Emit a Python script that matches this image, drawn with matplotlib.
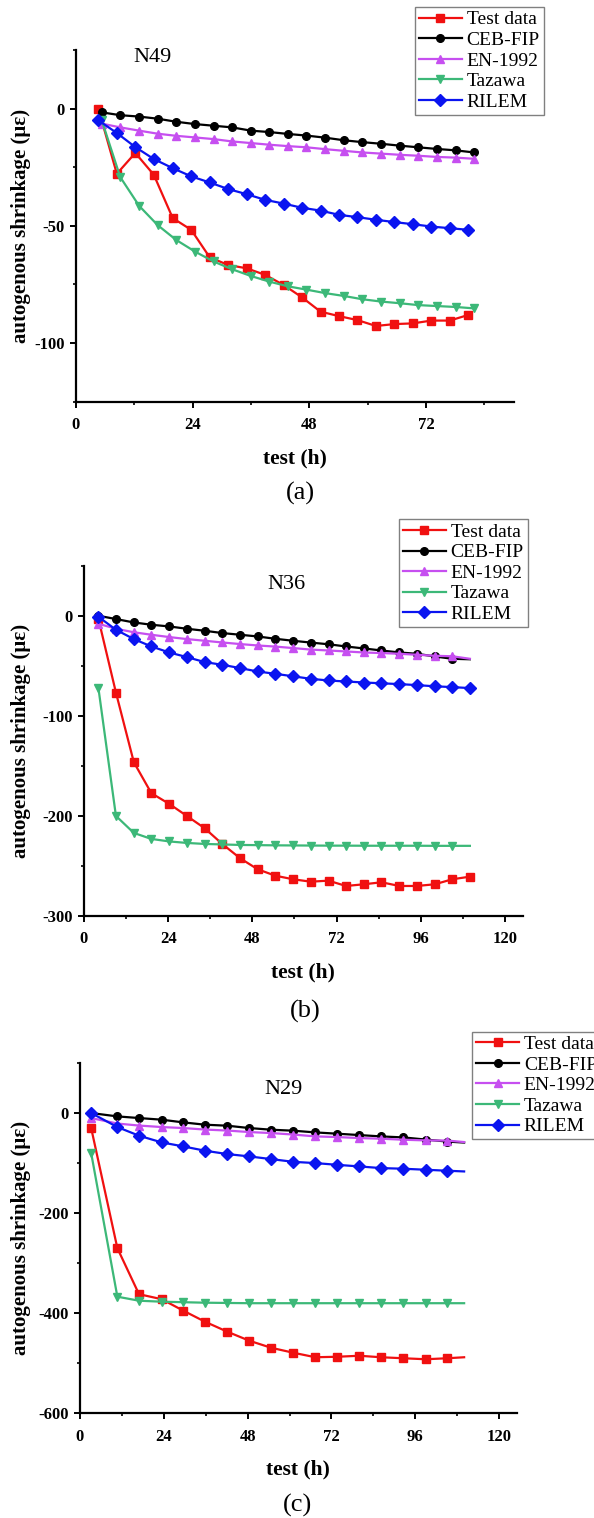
import matplotlib
matplotlib.use("Agg")
import matplotlib.pyplot as plt
from matplotlib.ticker import MultipleLocator

plt.rcParams["font.family"] = ["Liberation Serif", "DejaVu Serif"]
plt.rcParams["axes.unicode_minus"] = False

labels = ["Test data", "CEB-FIP", "EN-1992", "Tazawa", "RILEM"]
colors = ["#f01010", "#000000", "#c64ff0", "#3cb878", "#0a14f0"]
markers = ["s", "o", "^", "v", "D"]
names = ["N49", "N36", "N29"]
captions = ["(a)", "(b)", "(c)"]

# (a) N49
x_a = [4.6, 8.4, 12.2, 16.0, 19.9, 23.7, 27.5, 31.3, 35.1, 38.9, 42.7,
       46.5, 50.3, 54.1, 57.9, 61.7, 65.5, 69.3, 73.1, 76.9, 80.7]
x_a2 = [5.3, 9.1, 13.0, 16.8, 20.6, 24.5, 28.3, 32.1, 36.0, 39.8, 43.6,
        47.4, 51.3, 55.1, 58.9, 62.8, 66.6, 70.4, 74.2, 78.1, 81.9]
test_a = [0, -27.8, -18.9, -28.2, -46.7, -51.7, -63.4, -66.7, -68.1, -70.9, -75.2,
          -80.5, -86.6, -88.5, -90.2, -92.7, -91.9, -91.6, -90.4, -90.4, -88.0]
ceb_a = [-1.6, -2.8, -3.4, -4.3, -5.6, -6.6, -7.3, -8.0, -9.4, -10.0, -10.8,
         -11.5, -12.4, -13.5, -14.3, -15.0, -15.8, -16.5, -17.2, -17.8, -18.7]
en_a = [-6.4, -8.0, -9.4, -10.7, -11.6, -12.3, -13.0, -14.0, -14.7, -15.4, -16.0,
        -16.5, -17.3, -18.0, -18.7, -19.2, -19.7, -20.1, -20.6, -20.9, -21.4]
tazawa_a = [-5.0, -29.2, -41.5, -49.7, -56.0, -61.0, -65.2, -68.5, -71.4, -73.8, -75.8,
            -77.2, -78.7, -79.9, -81.3, -82.3, -83.0, -83.8, -84.2, -84.6, -85.2]
rilem_a = [-5.0, -10.4, -16.4, -21.5, -25.4, -28.9, -31.5, -34.3, -36.5, -38.9, -40.5,
           -42.3, -43.5, -45.3, -46.3, -47.4, -48.4, -49.3, -50.3, -51.0, -51.7]

# (b) N36
x_b = [4.1, 9.1, 14.2, 19.2, 24.3, 29.3, 34.4, 39.4, 44.5, 49.5, 54.5,
       59.6, 64.6, 69.7, 74.7, 79.8, 84.8, 89.9, 94.9, 100.0, 105.0, 110.0]
test_b = [-3, -76.7, -146.3, -177.3, -188, -200, -212.3, -228, -242.3, -253.3, -259.7,
          -263.3, -265.7, -264.7, -270, -268.3, -266.3, -270, -270, -268.3, -263.3, -260.7]
ceb_b = [0, -3.3, -6.7, -9, -10.7, -13, -15, -17.3, -19, -20.7, -23,
         -25, -26.8, -28.5, -30.7, -32.7, -34.7, -36.7, -38, -40.7, -43, -43.5]
en_b = [-8, -13, -16.5, -19, -21.3, -23.3, -25, -26.7, -28.3, -29.7, -30.8,
        -32.3, -33.8, -34.7, -35.7, -36.7, -37.3, -38, -39, -40, -40.5, -43]
tazawa_b = [-72, -200, -217, -223, -225.5, -227, -228, -228.5, -229, -229.2, -229.4,
            -229.5, -229.6, -229.7, -229.7, -229.8, -229.8, -229.8, -229.8, -229.9, -229.9, -229.9]
rilem_b = [-1, -14, -23.3, -30.7, -36.7, -41.3, -46.3, -49, -52.3, -55.7, -58,
           -60.5, -63, -64.7, -65.7, -66.7, -67.5, -68.3, -69.3, -70.5, -71.3, -72.3]

# (c) N29
x_c = [3.2, 10.7, 16.9, 23.4, 29.6, 35.8, 42.2, 48.5, 54.7, 61.1, 67.4,
       73.7, 80.0, 86.2, 92.6, 99.0, 105.2, 110.0]
test_c = [-30, -270, -362, -372, -395, -417, -437, -455, -469, -479, -488,
          -487, -485, -488, -490, -492, -490, -488]
ceb_c = [0, -6.7, -10, -13.3, -18.7, -23.3, -25.3, -30, -33.3, -35.3, -38.7,
         -41.3, -44, -46.7, -48.7, -53, -57, -59]
en_c = [-10, -21, -25, -28, -30, -33, -35, -38, -40, -43, -46.7,
        -48, -50, -51.3, -53.3, -54.7, -55, -58]
tazawa_c = [-80, -367, -375, -377, -378, -379, -379.5, -380, -380, -380, -380,
            -380, -380, -380, -380, -380, -380, -380]
rilem_c = [0, -28, -45.3, -58.7, -66.7, -75.3, -82, -86.7, -92, -97.5, -100,
           -103.5, -106.7, -110, -111.3, -113.3, -115.3, -116.7]

W, H = 594, 1518
fig = plt.figure(figsize=(W / 100, H / 100), dpi=100)

panels = [
    dict(box=(76, 50, 513.5, 401.7), xlim=(0, 90), ylim=(-125, 25), ystep=50,
         xs=[x_a, x_a2, x_a2, x_a2, x_a], ys=[test_a, ceb_a, en_a, tazawa_a, rilem_a],
         full=[True, True, True, True, True],
         name_xy=(15.8, 21.8), legend_xy=(415, 7), caption_xy=(300, 493)),
    dict(box=(84, 565.7, 522.5, 916), xlim=(0, 125), ylim=(-300, 50), ystep=100,
         xs=[x_b] * 5, ys=[test_b, ceb_b, en_b, tazawa_b, rilem_b],
         full=[True, False, False, False, True],
         name_xy=(57.8, 31), legend_xy=(399, 519.3), caption_xy=(305, 1011)),
    dict(box=(80, 1063, 516.5, 1413.3), xlim=(0, 125), ylim=(-600, 100), ystep=200,
         xs=[x_c] * 5, ys=[test_c, ceb_c, en_c, tazawa_c, rilem_c],
         full=[False] * 5,
         name_xy=(58.4, 48), legend_xy=(472.3, 1031.7), caption_xy=(297, 1505)),
]

for i, p in enumerate(panels):
    left, top, right, bottom = p["box"]
    ax = fig.add_axes([left / W, 1 - bottom / H, (right - left) / W, (bottom - top) / H])
    for k in range(5):
        n = len(p["xs"][k])
        every = None if p["full"][k] else list(range(n - 1))
        ax.plot(p["xs"][k], p["ys"][k], color=colors[k], marker=markers[k],
                markersize=6 if markers[k] in "^vD" else 5.5, markeredgecolor=colors[k],
                linewidth=1.6, markevery=every, label=labels[k])

    ax.set_xlim(*p["xlim"])
    ax.set_ylim(*p["ylim"])
    ax.xaxis.set_major_locator(MultipleLocator(24))
    ax.xaxis.set_minor_locator(MultipleLocator(12))
    ax.yaxis.set_major_locator(MultipleLocator(p["ystep"]))
    ax.yaxis.set_minor_locator(MultipleLocator(p["ystep"] / 2))
    for s in ["top", "right"]:
        ax.spines[s].set_visible(False)
    for s in ["left", "bottom"]:
        ax.spines[s].set_linewidth(1.6)
    ax.tick_params(which="major", direction="out", length=4, width=1.4, labelsize=12)
    ax.tick_params(which="minor", direction="out", length=2.5, width=1.2)
    ax.tick_params(axis="x", which="major", pad=7)
    ax.tick_params(axis="y", which="major", pad=4)
    for t in ax.get_xticklabels() + ax.get_yticklabels():
        t.set_fontweight("bold")

    ax.set_xlabel("test (h)", fontsize=15.5, fontweight="bold", labelpad=11)
    ax.set_ylabel("autogenous shrinkage (με)", fontsize=15, fontweight="bold")
    ax.yaxis.set_label_coords((31 - left) / (right - left), 0.5)

    ax.text(p["name_xy"][0], p["name_xy"][1], names[i], fontsize=16,
            ha="center", va="center")

    lx, ly = p["legend_xy"]
    ax.legend(loc="upper left", bbox_to_anchor=(lx / W, 1 - ly / H),
              bbox_transform=fig.transFigure, fontsize=14, frameon=True,
              fancybox=False, edgecolor="#808080", framealpha=1,
              labelspacing=0.15, handlelength=2.2, handletextpad=0.25,
              borderpad=0.2, borderaxespad=0)

    cx, cy = p["caption_xy"]
    fig.text(cx / W, 1 - cy / H, captions[i], fontsize=19, ha="center", va="center")

fig.savefig("out.png", dpi=100, facecolor="white")
